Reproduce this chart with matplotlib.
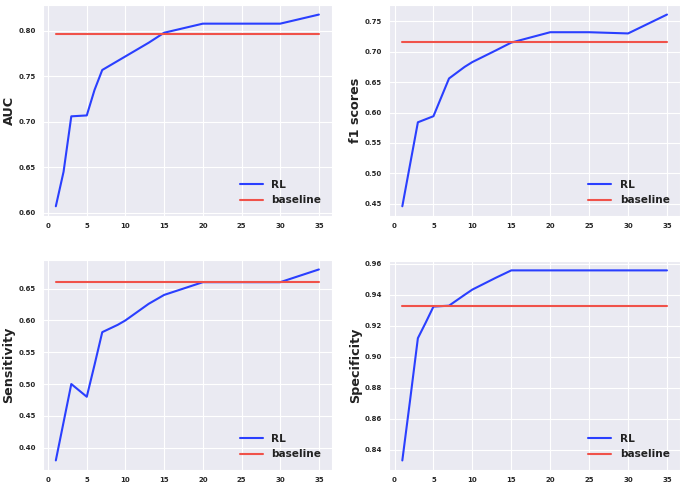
import matplotlib
matplotlib.use("Agg")
import matplotlib.pyplot as plt
import seaborn as sns

sns.set_style("darkgrid")
plt.rcParams['font.family'] = ['DejaVu Sans']

x = [1, 2, 3, 4, 5, 6, 7, 9, 10, 13, 15, 20, 25, 30, 35]

auc_rl = [0.607, 0.645, 0.706, 0.7065, 0.707, 0.735, 0.757, 0.767, 0.772, 0.787, 0.798, 0.808, 0.808, 0.808, 0.818]
auc_base = 0.797

f1_rl = [0.446, 0.515, 0.584, 0.589, 0.594, 0.625, 0.656, 0.675, 0.683, 0.702, 0.715, 0.732, 0.732, 0.730, 0.761]
f1_base = 0.716

sens_rl = [0.380, 0.440, 0.500, 0.490, 0.480, 0.530, 0.5815, 0.593, 0.600, 0.626, 0.640, 0.660, 0.660, 0.660, 0.680]
sens_base = 0.660

spec_rl = [0.833, 0.872, 0.912, 0.922, 0.9324, 0.9327, 0.933, 0.940, 0.9434, 0.951, 0.9558, 0.9558, 0.9558, 0.9558, 0.9558]
spec_base = 0.9328

panels = [
    ("AUC", auc_rl, auc_base, [0.0623, 0.554, 0.4224, 0.4357]),
    ("f1 scores", f1_rl, f1_base, [0.568, 0.554, 0.425, 0.4357]),
    ("Sensitivity", sens_rl, sens_base, [0.0623, 0.029, 0.4224, 0.434]),
    ("Specificity", spec_rl, spec_base, [0.568, 0.029, 0.425, 0.432]),
]

fig = plt.figure(figsize=(6.85, 4.84), dpi=100)
for label, rl, base, pos in panels:
    ax = fig.add_axes(pos)
    ax.plot(x, rl, color='#2a3fff', lw=1.5, label='RL')
    ax.plot(x, [base] * len(x), color='#f0524a', lw=1.5, label='baseline')
    ax.set_ylabel(label, fontsize=9.2, fontweight='bold', color='#222222', labelpad=2)
    ax.set_xticks([0, 5, 10, 15, 20, 25, 30, 35])
    for t in ax.get_xticklabels() + ax.get_yticklabels():
        t.set_fontsize(5)
        t.set_fontweight('bold')
        t.set_color('#262626')
    ax.tick_params(axis='both', pad=1.5)
    leg = ax.legend(loc='lower right', frameon=False, prop={'size': 7.6, 'weight': 'bold'},
                    handlelength=2.2, borderaxespad=0.6)
    for t in leg.get_texts():
        t.set_color('#222222')

fig.savefig("out.png", dpi=100)
